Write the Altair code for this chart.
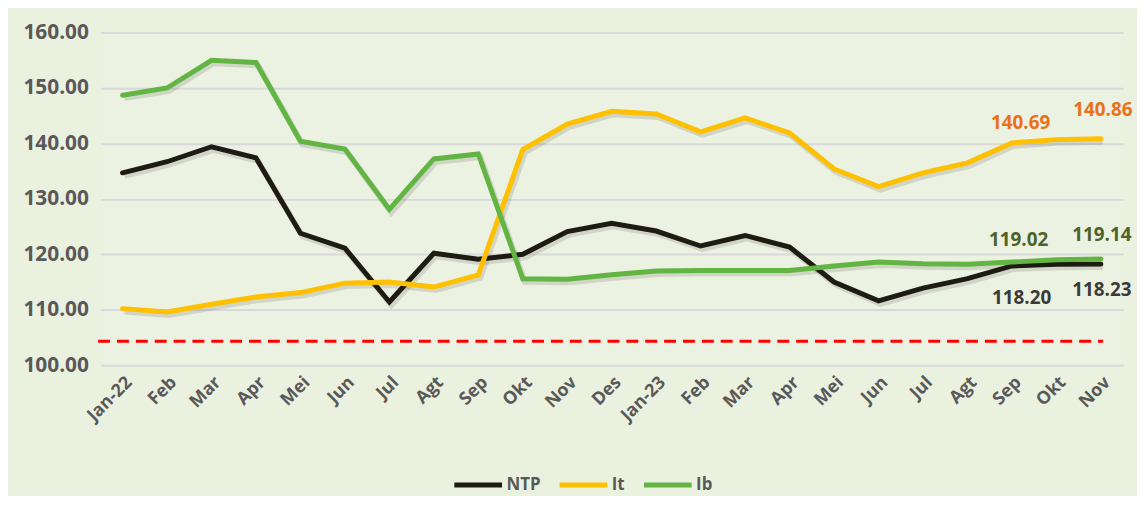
import altair as alt
import pandas as pd

months = ["Jan-22", "Feb", "Mar", "Apr", "Mei", "Jun", "Jul", "Agt", "Sep", "Okt", "Nov", "Des",
          "Jan-23", "Feb", "Mar", "Apr", "Mei", "Jun", "Jul", "Agt", "Sep", "Okt", "Nov"]
ntp = [134.7, 136.7, 139.4, 137.4, 123.8, 121.1, 111.4, 120.2, 119.1, 120.0, 124.1, 125.6,
       124.2, 121.5, 123.4, 121.3, 115.0, 111.6, 113.9, 115.6, 117.9, 118.20, 118.23]
it = [110.2, 109.6, 111.0, 112.3, 113.1, 114.8, 115.0, 114.1, 116.3, 138.9, 143.5, 145.8,
      145.3, 142.1, 144.6, 141.9, 135.4, 132.2, 134.7, 136.5, 140.1, 140.69, 140.86]
ib = [148.7, 150.0, 155.0, 154.6, 140.4, 139.0, 128.1, 137.2, 138.1, 115.6, 115.5, 116.3,
      117.0, 117.1, 117.1, 117.1, 117.9, 118.6, 118.3, 118.2, 118.6, 119.02, 119.14]
series_names = ["NTP", "It", "Ib"]
series_colors = ["#1E1B12", "#FFC000", "#62B543"]
threshold = 104.3

rows = []
for name, vals in zip(series_names, [ntp, it, ib]):
    for i, v in enumerate(vals):
        rows.append({"idx": i, "series": name, "value": v})
df = pd.DataFrame(rows)

label_expr = "[" + ",".join("'%s'" % m for m in months) + "][datum.value]"

FONT = "Open Sans"
x_enc = alt.X("idx:Q", scale=alt.Scale(domain=[-0.5, len(months) - 0.5], nice=False, zero=False),
              axis=alt.Axis(values=list(range(len(months))), labelExpr=label_expr, labelAngle=-45,
                            labelOverlap=False, labelBound=False, labelFlush=False,
                            title=None, grid=False, ticks=False, domain=False,
                            labelFont=FONT, labelFontSize=18, labelFontWeight="bold",
                            labelColor="#595959", labelPadding=8))
y_scale = alt.Scale(domain=[100, 160], nice=False, zero=False)
y_enc = alt.Y("value:Q", scale=y_scale,
              axis=alt.Axis(values=[100, 110, 120, 130, 140, 150, 160], format=".2f", title=None,
                            grid=True, gridColor="#D9D9D9", gridWidth=2, ticks=False, domain=False,
                            labelFont=FONT, labelFontSize=21, labelFontWeight="bold",
                            labelColor="#595959", labelPadding=12))
color_enc = alt.Color("series:N", scale=alt.Scale(domain=series_names, range=series_colors),
                      legend=alt.Legend(title=None, orient="none", legendX=354, legendY=429,
                                        direction="horizontal", symbolType="stroke",
                                        symbolStrokeWidth=5, symbolSize=2304,
                                        labelFont=FONT, labelFontSize=17, labelFontWeight="bold",
                                        labelColor="#595959", columnPadding=8, labelOffset=2))

base = alt.Chart(df)

shadow = base.mark_line(strokeWidth=6, opacity=0.18, color="#555555", xOffset=2, yOffset=3).encode(
    x=x_enc, y=y_enc, detail="series:N")

lines = base.mark_line(strokeWidth=5, strokeCap="round", strokeJoin="miter").encode(
    x=x_enc, y=y_enc, color=color_enc,
    order=alt.Order("idx:Q"))

thr_df = pd.DataFrame({"idx": [-0.55, len(months) - 1 + 0.05], "value": [threshold, threshold]})
thr = alt.Chart(thr_df).mark_line(color="#FF0000", strokeWidth=3, strokeDash=[12, 7]).encode(
    x=alt.X("idx:Q"), y=alt.Y("value:Q"))

lab_rows = [
    {"idx": 21, "value": it[21], "txt": "%.2f" % it[21], "c": "it", "dx": -36, "dy": -17},
    {"idx": 22, "value": it[22], "txt": "%.2f" % it[22], "c": "it", "dx": 2, "dy": -29},
    {"idx": 21, "value": ib[21], "txt": "%.2f" % ib[21], "c": "ib", "dx": -38, "dy": -20},
    {"idx": 22, "value": ib[22], "txt": "%.2f" % ib[22], "c": "ib", "dx": 1, "dy": -24},
    {"idx": 21, "value": ntp[21], "txt": "%.2f" % ntp[21], "c": "ntp", "dx": -35, "dy": 34},
    {"idx": 22, "value": ntp[22], "txt": "%.2f" % ntp[22], "c": "ntp", "dx": 1, "dy": 26},
]
label_colors = {"it": "#E8711A", "ib": "#4F6228", "ntp": "#3A3A3A"}
text_layers = []
for r in lab_rows:
    text_layers.append(
        alt.Chart(pd.DataFrame([r])).mark_text(
            font=FONT, fontSize=19, fontWeight="bold", color=label_colors[r["c"]],
            dx=r["dx"], dy=r["dy"], align="center", baseline="middle"
        ).encode(x="idx:Q", y="value:Q", text="txt:N")
    )

chart = alt.layer(thr, shadow, lines, *text_layers).properties(
    width=1030, height=335,
    autosize=alt.AutoSizeParams(type="none"),
    padding={"left": 93, "top": 23, "right": 14, "bottom": 130},
    background="#EBF1DF",
).configure_view(stroke=None, fill="#ECF2E1")

chart.save("out.html", embed_options={"renderer": "svg", "actions": False})
